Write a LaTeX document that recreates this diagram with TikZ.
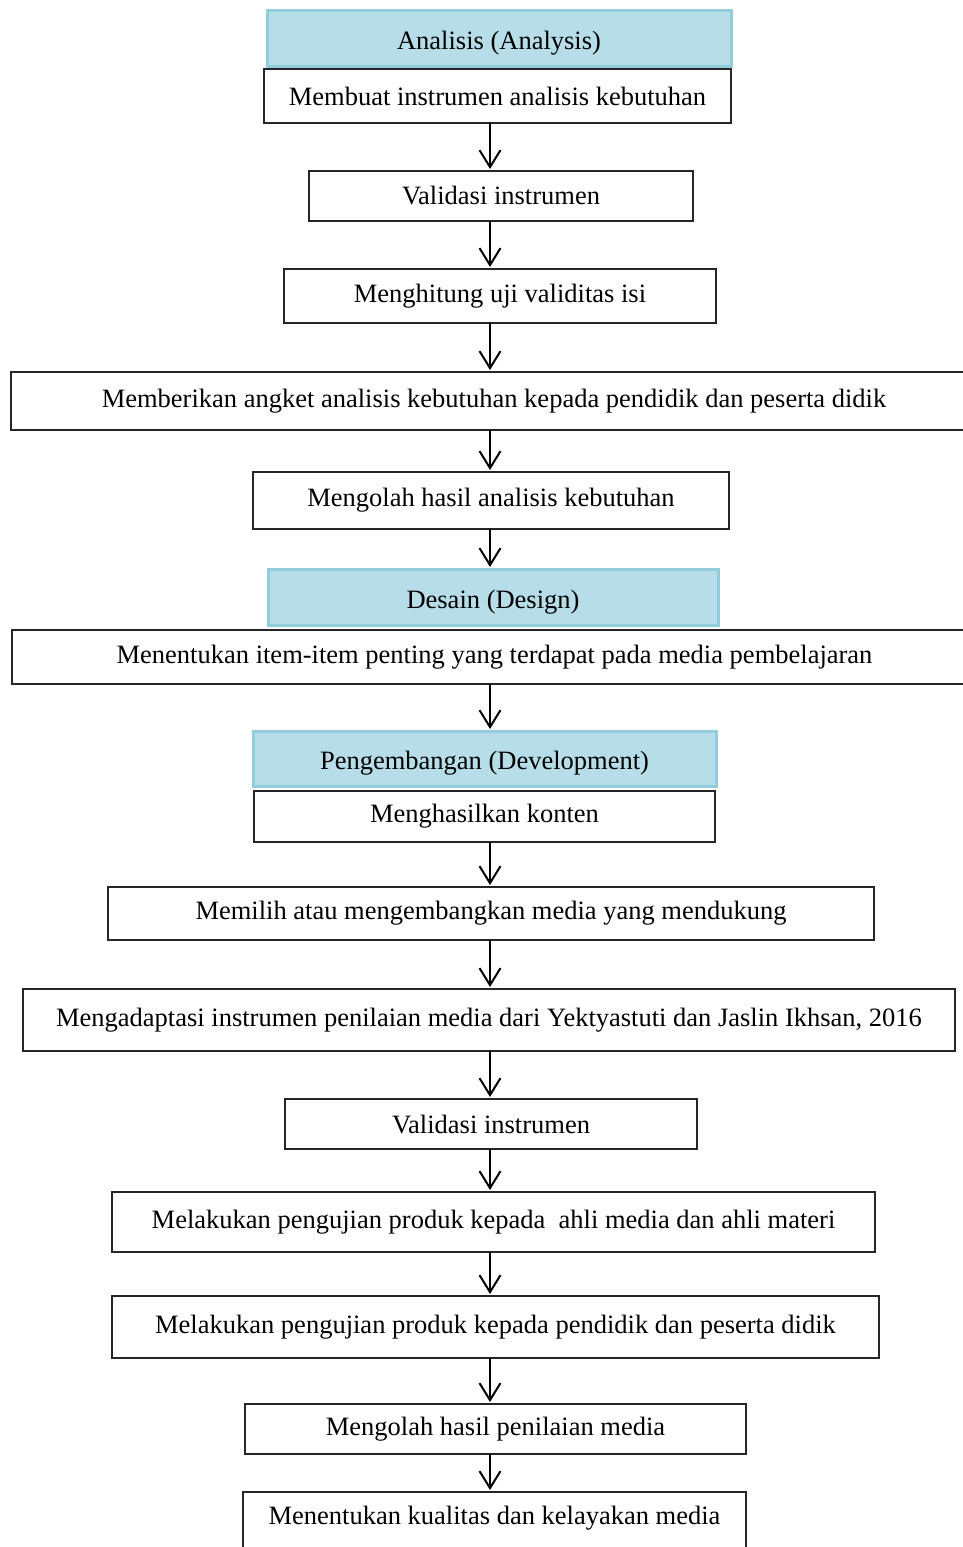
\documentclass[tikz,border=0pt]{standalone}
\usepackage{fontspec}
\setmainfont{Liberation Serif}
\usetikzlibrary{arrows.meta, positioning}

\definecolor{phasefill}{RGB}{183,221,232}
\definecolor{phaseline}{RGB}{146,205,220}

\tikzset{
  stepbox/.style={draw=black!85, line width=1.3pt, fill=white, inner sep=0pt, outer sep=0pt, font=\fontsize{26.5}{31}\selectfont},
  phasebox/.style={draw=phaseline, line width=3pt, fill=phasefill, inner sep=0pt, outer sep=0pt, text height=22pt, text depth=0pt, font=\fontsize{26.5}{31}\selectfont},
  arr/.style={line width=2pt, shorten >=2pt, -{Straight Barb[length=17pt, width=21pt, line width=2pt]}}
}

\begin{document}
\begin{tikzpicture}[x=1pt, y=-1pt]
        \useasboundingbox (0,0) rectangle (963,1547);
        \coordinate (mid) at (490,0);

        % Analysis
        \node[phasebox, minimum width=464pt, minimum height=56pt] (analisis) at (499,38) {Analisis (Analysis)};
        \node[stepbox, minimum width=467pt, minimum height=54pt] (membuat) at (497.5,96) {Membuat instrumen analisis kebutuhan};
        \node[stepbox, minimum width=384pt, minimum height=50pt] (validasiA) at (501,196) {Validasi instrumen};
        \node[stepbox, minimum width=432pt, minimum height=54pt] (hitung) at (500,296) {Menghitung uji validitas isi};
        \node[stepbox, minimum width=966pt, minimum height=58pt] (angket) at (494,401) {Memberikan angket analisis kebutuhan kepada pendidik dan peserta didik};
        \node[stepbox, minimum width=476pt, minimum height=57pt] (olahA) at (491,500.5) {Mengolah hasil analisis kebutuhan};

        % Design
        \node[phasebox, minimum width=450pt, minimum height=56pt] (desain) at (493,597) {Desain (Design)};
        \node[stepbox, minimum width=965pt, minimum height=54pt] (item) at (494.5,657) {Menentukan item-item penting yang terdapat pada media pembelajaran};

        % Development
        \node[phasebox, minimum width=463pt, minimum height=55pt] (kembang) at (484.5,758.5) {Pengembangan (Development)};
        \node[stepbox, minimum width=461pt, minimum height=51pt] (konten) at (484.5,816.5) {Menghasilkan konten};
        \node[stepbox, minimum width=766pt, minimum height=53pt] (pilih) at (491,913.5) {Memilih atau mengembangkan media yang mendukung};
        \node[stepbox, minimum width=932pt, minimum height=62pt] (adaptasi) at (489,1020) {Mengadaptasi instrumen penilaian media dari Yektyastuti dan Jaslin Ikhsan, 2016};
        \node[stepbox, minimum width=412pt, minimum height=50pt] (validasiB) at (491,1124) {Validasi instrumen};
        \node[stepbox, minimum width=763pt, minimum height=60pt] (ahli) at (493.5,1222) {Melakukan pengujian produk kepada\ \ ahli media dan ahli materi};
        \node[stepbox, minimum width=767pt, minimum height=62pt] (didik) at (495.5,1327) {Melakukan pengujian produk kepada pendidik dan peserta didik};
        \node[stepbox, minimum width=501pt, minimum height=50pt] (olahB) at (495.5,1429) {Mengolah hasil penilaian media};
        \node[stepbox, minimum width=503pt, minimum height=64pt, text depth=18pt] (kualitas) at (494.5,1524) {Menentukan kualitas dan kelayakan media};

        % Arrows
        \draw[arr] (membuat.south -| mid) -- (validasiA.north -| mid);
        \draw[arr] (validasiA.south -| mid) -- (hitung.north -| mid);
        \draw[arr] (hitung.south -| mid) -- (angket.north -| mid);
        \draw[arr] (angket.south -| mid) -- (olahA.north -| mid);
        \draw[arr] (olahA.south -| mid) -- (desain.north -| mid);
        \draw[arr] (item.south -| mid) -- (kembang.north -| mid);
        \draw[arr] (konten.south -| mid) -- (pilih.north -| mid);
        \draw[arr] (pilih.south -| mid) -- (adaptasi.north -| mid);
        \draw[arr] (adaptasi.south -| mid) -- (validasiB.north -| mid);
        \draw[arr] (validasiB.south -| mid) -- (ahli.north -| mid);
        \draw[arr] (ahli.south -| mid) -- (didik.north -| mid);
        \draw[arr] (didik.south -| mid) -- (olahB.north -| mid);
        \draw[arr] (olahB.south -| mid) -- (kualitas.north -| mid);
\end{tikzpicture}
\end{document}
